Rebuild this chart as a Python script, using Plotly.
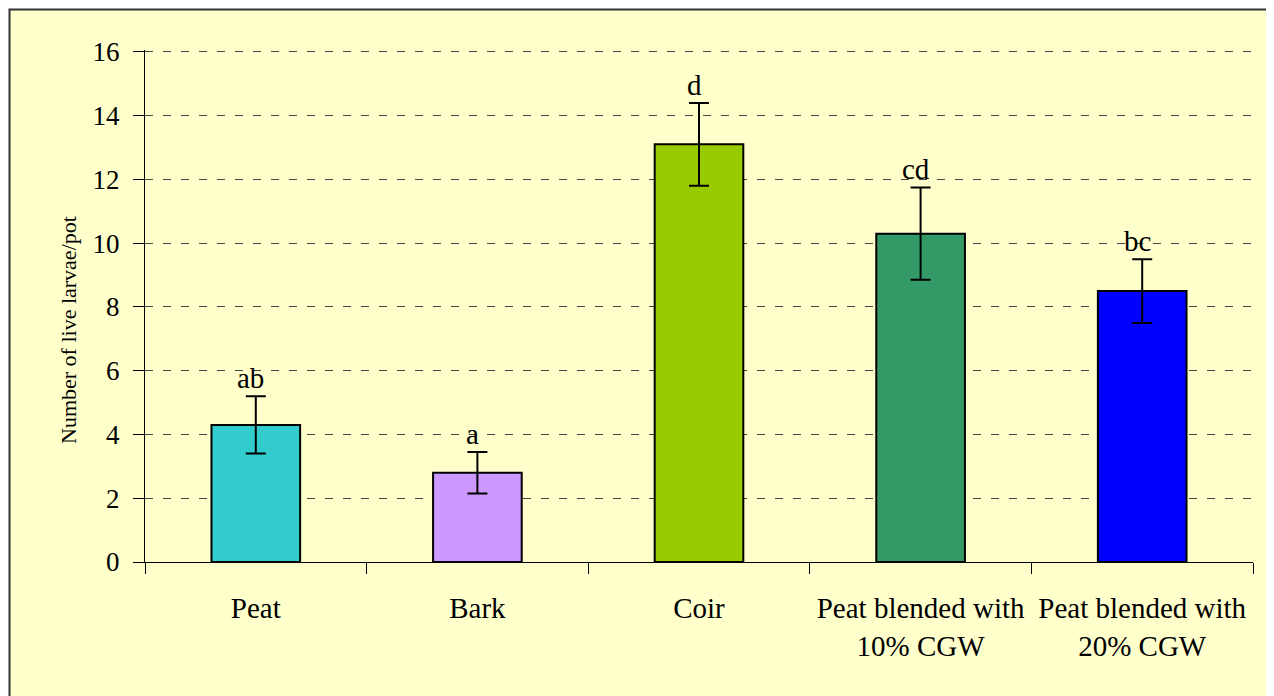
import plotly.graph_objects as go

categories = ["Peat", "Bark", "Coir", "Peat blended with<br>10% CGW", "Peat blended with<br>20% CGW"]
means = [4.3, 2.8, 13.1, 10.3, 8.5]
errors = [0.9, 0.65, 1.3, 1.45, 1.0]
letters = ["ab", "a", "d", "cd", "bc"]
colors = ["#33CCCC", "#CC99FF", "#99CC00", "#339966", "#0000FF"]

FONT = "Liberation Serif, Times New Roman, serif"

# page has an 8px body margin, so figure coords = page coords - 8
FW, FH = 1266, 688
L, R, T, B = 137, 1245, 42, 554
W, H = R - L, B - T


def px(x):
    return (x - 8 - L) / W


def py(y):
    return (B - (y - 8)) / H


fig = go.Figure(go.Bar(
    x=categories,
    y=means,
    marker_color=colors,
    marker_line_color="black",
    marker_line_width=2,
    error_y=dict(type="data", array=errors, color="black", thickness=2, width=10),
))

annotations = [dict(
    x=c, y=m + e, text=t, showarrow=False, yanchor="bottom", xshift=-5, yshift=0,
    font=dict(family=FONT, size=29, color="black"),
) for c, m, e, t in zip(categories, means, errors, letters)]

annotations.append(dict(
    text="Number of live larvae/pot", textangle=-90, showarrow=False,
    xref="paper", yref="paper", x=px(68), y=py(330),
    xanchor="center", yanchor="middle",
    font=dict(family=FONT, size=22, color="black"),
))

fig.update_layout(
    width=FW, height=FH,
    margin=dict(l=L, r=FW - R, t=T, b=FH - B),
    paper_bgcolor="white",
    plot_bgcolor="rgba(0,0,0,0)",
    bargap=0.6,
    showlegend=False,
    font=dict(family=FONT, size=27, color="black"),
    annotations=annotations,
    shapes=[dict(
        type="rect", xref="paper", yref="paper", layer="below",
        x0=px(9.5), x1=px(1270), y0=py(702), y1=py(9.5),
        fillcolor="#FFFFCC", line=dict(color="#333333", width=2),
    )],
    xaxis=dict(
        showline=True, linecolor="black", linewidth=1,
        ticks="outside", tickson="boundaries", ticklen=11, tickcolor="black",
        ticklabelstandoff=20,
        tickfont=dict(family=FONT, size=29),
        showgrid=False,
    ),
    yaxis=dict(
        range=[0, 16.06], tickvals=[0, 2, 4, 6, 8, 10, 12, 14, 16],
        showline=True, linecolor="black", linewidth=1,
        ticks="outside", ticklen=11, tickcolor="black",
        ticklabelstandoff=8,
        tickfont=dict(family=FONT, size=27),
        showgrid=True, gridcolor="#444444", gridwidth=1, griddash="8px,10px",
        zeroline=False,
    ),
)

fig.write_html("out.html")
